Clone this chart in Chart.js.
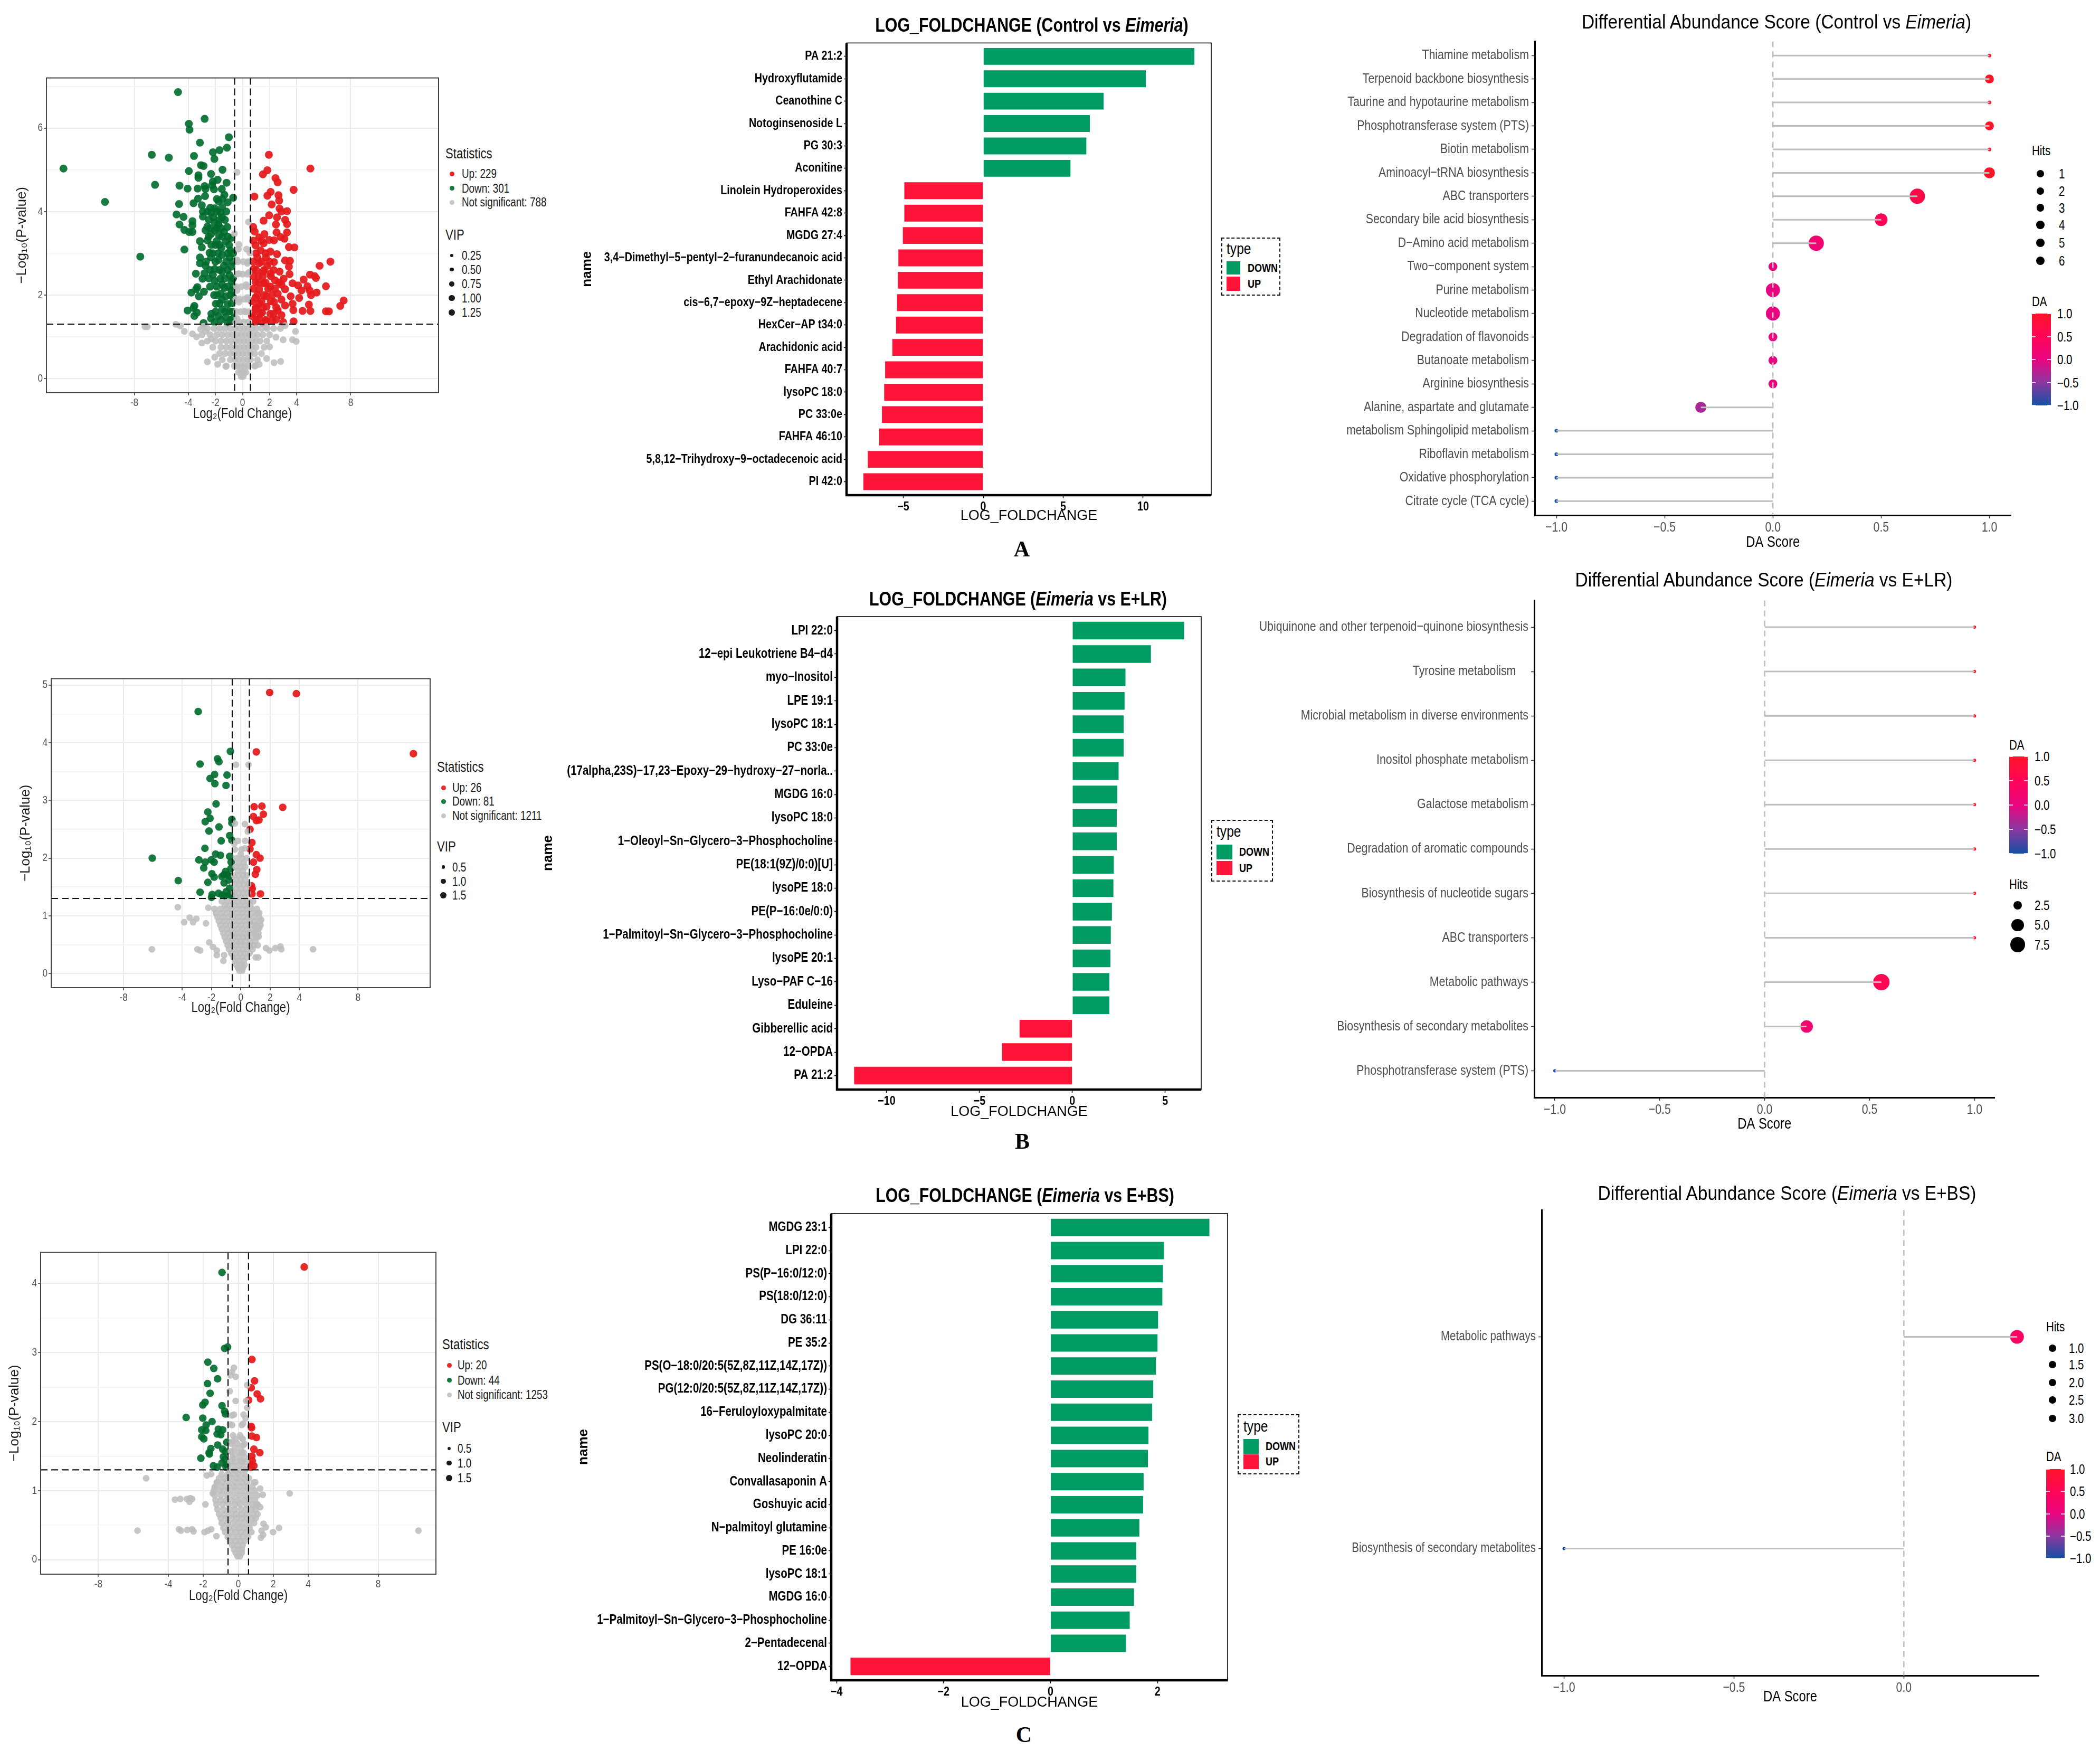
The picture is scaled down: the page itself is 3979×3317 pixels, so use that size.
<!DOCTYPE html>
<html><head><meta charset="utf-8">
<script src="https://cdn.jsdelivr.net/npm/chart.js@4.4.1/dist/chart.umd.min.js"></script>
<style>
html,body{margin:0;padding:0;background:#fff;}
#page{position:relative;width:3979px;height:3317px;overflow:hidden;background:#fff;}
canvas{position:absolute;}
.t{position:absolute;white-space:pre;line-height:1;}
</style></head><body><div id="page"></div>
<script>
// font detection: use a real narrow face if present, otherwise Liberation Sans compressed horizontally
const _m = document.createElement('canvas').getContext('2d');
_m.font = "40px monospace"; const _w1 = _m.measureText('abcdefghijklmnopqrstuvwxyz').width;
_m.font = "40px 'Liberation Sans Narrow', monospace"; const _w2 = _m.measureText('abcdefghijklmnopqrstuvwxyz').width;
const HAS_NARROW = Math.abs(_w1-_w2) > 1;
const NARROW = HAS_NARROW ? "'Liberation Sans Narrow', sans-serif" : "'Liberation Sans', sans-serif";
const NSCALE = HAS_NARROW ? 1 : 0.82;
const SANS = "Arial, 'Liberation Sans', sans-serif";
const SERIF = "'Liberation Serif','Times New Roman',serif";

// ---------------- DATA ----------------
const FC_CUT = 0.585, P_CUT = 1.301;
const volcXTicks = [-8,-4,-2,0,2,4,8];

const statCountsA = [229, 301, 788];
const vipLabelsA = ['0.25','0.50','0.75','1.00','1.25'];
const volcA_up = [[1.95,5.36],[5.02,5.03],[1.84,4.99],[1.51,4.89],[2.44,4.80],[2.60,4.70],[3.78,4.52],[2.08,4.47],[0.88,4.36],[1.84,4.38],[2.66,4.39],[2.71,4.26],[2.16,4.17],[2.74,4.07],[2.88,4.00],[3.29,4.01],[1.97,3.91],[2.55,3.86],[1.56,3.78],[3.15,3.80],[2.47,3.69],[3.29,3.70],[0.79,3.63],[0.90,3.52],[1.62,3.46],[2.52,3.50],[3.29,3.50],[1.23,3.38],[1.97,3.32],[2.33,3.31],[2.82,3.39],[3.10,3.35],[0.96,3.19],[1.56,3.24],[3.43,3.15],[3.84,3.14],[1.34,3.07],[2.06,3.04],[2.55,2.98],[1.10,2.90],[1.73,2.90],[3.15,2.83],[3.51,2.82],[6.50,2.80],[1.23,2.76],[2.33,2.79],[5.70,2.70],[1.84,2.70],[3.43,2.68],[0.82,2.62],[1.51,2.56],[2.74,2.56],[2.06,2.51],[3.48,2.50],[1.18,2.45],[4.99,2.49],[5.34,2.45],[5.43,2.41],[4.52,2.37],[3.04,2.39],[2.41,2.35],[0.96,2.31],[1.56,2.28],[2.88,2.25],[3.70,2.28],[6.17,2.21],[4.11,2.23],[4.80,2.21],[2.06,2.20],[1.23,2.14],[3.15,2.14],[4.36,2.11],[4.96,2.11],[5.48,2.06],[5.07,2.00],[2.60,2.03],[1.78,1.97],[3.56,1.97],[0.96,1.94],[4.19,1.93],[7.48,1.87],[2.88,1.89],[2.33,1.83],[1.23,1.80],[3.70,1.79],[4.91,1.77],[7.23,1.74],[3.15,1.75],[1.78,1.72],[0.96,1.66],[3.76,1.64],[4.44,1.62],[5.02,1.62],[6.17,1.61],[6.39,1.61],[2.60,1.64],[1.45,1.58],[2.06,1.55],[2.88,1.52],[0.69,1.50],[1.23,1.44],[2.47,1.41],[1.78,1.38],[3.78,1.37],[0.96,1.35],[1.51,1.33],[3.01,1.35],
[1.0,1.4],[1.7,1.4],[2.2,1.4],[0.75,1.55],[1.3,1.55],[2.3,1.55],[1.0,1.7],[1.5,1.7],[2.5,1.7],[0.7,1.85],[1.4,1.85],[2.1,1.85],[1.1,2.0],[1.6,2.0],[2.2,2.0],[0.8,2.15],[1.9,2.15],[2.4,2.15],[1.2,2.3],[1.7,2.3],[2.7,2.3],[0.8,2.45],[1.5,2.45],[2.1,2.45],[1.0,2.6],[1.6,2.6],[2.3,2.6],[0.8,2.8],[1.4,2.8],[2.0,2.8],[1.0,3.0],[1.7,3.0],[0.8,3.3],[1.4,3.3]];
const volcA_down = [[-4.77,6.86],[-2.80,6.22],[-3.97,6.10],[-3.92,5.96],[-1.01,5.78],[-3.15,5.65],[-1.15,5.53],[-1.70,5.47],[-2.19,5.42],[-6.71,5.36],[-3.59,5.33],[-5.45,5.29],[-2.08,5.26],[-13.24,5.03],[-3.07,5.11],[-2.88,5.09],[-3.97,4.97],[-1.48,5.00],[-2.33,4.90],[-3.26,4.87],[-3.26,4.81],[-1.84,4.76],[-2.19,4.72],[-1.18,4.69],[-6.47,4.64],[-4.66,4.62],[-2.80,4.61],[-2.25,4.63],[-4.06,4.55],[-3.32,4.55],[-2.74,4.54],[-2.11,4.53],[-1.53,4.54],[-1.34,4.40],[-0.69,4.33],[-2.77,4.37],[-3.29,4.31],[-10.17,4.23],[-3.62,4.20],[-4.69,4.18],[-3.01,4.15],[-1.10,4.22],[-1.78,4.25],[-2.38,4.09],[-2.06,4.08],[-1.51,4.11],[-2.93,4.00],[-2.33,3.97],[-1.64,3.97],[-4.88,3.93],[-4.36,3.87],[-2.93,3.88],[-2.16,3.86],[-1.51,3.86],[-3.70,3.77],[-2.06,3.74],[-1.78,3.69],[-4.66,3.69],[-3.70,3.67],[-2.60,3.64],[-1.12,3.63],[-4.30,3.56],[-3.95,3.51],[-3.70,3.51],[-2.74,3.55],[-2.06,3.55],[-1.37,3.51],[-2.33,3.46],[-1.73,3.43],[-0.82,3.37],[-2.60,3.31],[-3.15,3.29],[-1.92,3.29],[-1.23,3.28],[-3.01,3.14],[-1.56,3.13],[-0.90,3.07],[-4.30,3.09],[-2.44,3.01],[-1.51,2.96],[-3.15,2.90],[-2.33,2.90],[-0.96,2.90],[-7.56,2.92],[-1.78,2.84],[-3.15,2.76],[-2.74,2.70],[-1.37,2.70],[-0.82,2.68],[-2.06,2.62],[-1.51,2.56],[-3.45,2.51],[-2.82,2.52],[-2.19,2.49],[-0.96,2.48],[-2.96,2.39],[-1.64,2.39],[-2.06,2.34],[-0.82,2.34],[-1.51,2.25],[-3.34,2.19],[-3.43,2.14],[-1.34,2.17],[-2.85,2.08],[-3.78,2.06],[-0.82,2.11],[-1.62,2.03],[-1.23,1.97],[-3.23,1.97],[-0.69,1.94],[-1.51,1.89],[-1.97,1.79],[-1.10,1.78],[-3.56,1.74],[-3.62,1.69],[-1.51,1.66],[-4.06,1.63],[-3.37,1.58],[-0.96,1.61],[-2.30,1.55],[-3.56,1.50],[-1.78,1.50],[-1.23,1.47],[-2.33,1.44],[-0.69,1.44],[-2.88,1.33],[-2.06,1.35],[-1.10,1.33],
[-1.6,1.4],[-0.9,1.4],[-2.0,1.6],[-1.3,1.6],[-0.75,1.6],[-1.7,1.8],[-0.8,1.8],[-2.1,2.0],[-1.9,2.0],[-0.9,2.0],[-2.4,2.2],[-1.9,2.2],[-1.1,2.2],[-0.7,2.2],[-2.5,2.4],[-1.3,2.4],[-0.7,2.4],[-2.4,2.6],[-1.7,2.6],[-1.1,2.6],[-2.7,2.8],[-2.0,2.8],[-1.2,2.8],[-0.7,2.8],[-2.2,3.0],[-1.8,3.0],[-1.1,3.0],[-0.7,3.0],[-2.3,3.2],[-2.0,3.2],[-1.7,3.2],[-1.0,3.2],[-2.5,3.4],[-1.5,3.4],[-1.1,3.4],[-2.4,3.6],[-1.9,3.6],[-1.6,3.6],[-2.5,3.8],[-1.7,3.8],[-1.3,3.8],[-2.6,4.0],[-1.9,4.0],[-1.2,4.0],[-1.9,4.3],[-1.5,4.3]];
const volcA_ns = [[-0.41,4.94],[0.44,3.75],[-0.60,3.47],[-0.27,3.21],[0.55,3.01],[0.36,2.76],[-0.41,2.84],[0.47,2.54],[-0.27,2.51],[0.27,2.25],[-0.41,2.11],[0.36,1.94],[-0.27,1.83],[0.14,1.61],[-0.41,1.44],[-7.04,1.24],[-7.21,1.24],[-4.93,1.30],[-4.60,1.26],[-4.30,1.13],[-3.70,1.07],[-3.01,0.85],[-2.74,1.13],[-2.60,0.40],[-2.06,0.51],[-1.23,0.29],[-1.84,0.34],[3.92,1.13],[3.97,0.89],[3.70,0.93],[3.01,0.93],[2.47,0.99],[2.00,0.76],[2.33,0.38],[2.82,0.41],[1.78,0.48],[0.96,0.31],[1.23,0.34],[3.15,1.27],[1.78,1.24],[-3.4,1.0],[-3.1,1.18],[-2.9,1.25],[-2.3,0.95],
[-0.1,0.05],[0.05,0.05],[-0.3,0.15],[-0.1,0.15],[0.1,0.15],[0.25,0.15],[-1.2,0.3],[-0.6,0.3],[-0.35,0.3],[-0.1,0.3],[0.15,0.3],[0.4,0.3],[0.9,0.3],[-1.5,0.45],[-0.9,0.45],[-0.55,0.45],[-0.25,0.45],[0.05,0.45],[0.35,0.45],[0.6,0.45],[1.1,0.45],[-1.7,0.6],[-1.3,0.6],[-0.9,0.6],[-0.6,0.6],[-0.3,0.6],[0,0.6],[0.3,0.6],[0.6,0.6],[0.9,0.6],[1.4,0.6],[-2.2,0.75],[-1.6,0.75],[-1.2,0.75],[-0.85,0.75],[-0.5,0.75],[-0.2,0.75],[0.1,0.75],[0.4,0.75],[0.7,0.75],[1.0,0.75],[1.6,0.75],[-2.6,0.9],[-2.0,0.9],[-1.6,0.9],[-1.2,0.9],[-0.85,0.9],[-0.5,0.9],[-0.2,0.9],[0.1,0.9],[0.4,0.9],[0.7,0.9],[1.0,0.9],[1.3,0.9],[1.8,0.9],[-3.0,1.05],[-2.4,1.05],[-1.9,1.05],[-1.5,1.05],[-1.1,1.05],[-0.75,1.05],[-0.4,1.05],[-0.1,1.05],[0.2,1.05],[0.5,1.05],[0.8,1.05],[1.1,1.05],[1.5,1.05],[2.0,1.05],[-2.6,1.2],[-2.1,1.2],[-1.7,1.2],[-1.3,1.2],[-0.9,1.2],[-0.55,1.2],[-0.2,1.2],[0.1,1.2],[0.4,1.2],[0.7,1.2],[1.0,1.2],[1.4,1.2],[1.8,1.2],[2.3,1.2],[2.8,1.2],[-0.5,1.35],[-0.2,1.35],[0.1,1.35],[0.4,1.35],[-0.45,1.6],[-0.15,1.6],[0.2,1.6],[0.45,1.6],[-0.5,1.9],[-0.2,1.9],[0.15,1.9],[0.4,1.9],[-0.45,2.2],[-0.1,2.2],[0.3,2.2],[-0.4,2.5],[0,2.5],[0.35,2.5],[-0.35,2.8],[0.05,2.8],[0.4,2.8],[-0.3,3.1],[0.3,3.1]];

const statCountsB = [26, 81, 1211];
const vipLabelsB = ['0.5','1.0','1.5'];
const volcB_up = [[1.97,4.87],[3.79,4.85],[11.78,3.81],[1.06,3.84],[0.91,2.89],[1.44,2.90],[2.86,2.88],[1.54,2.76],[0.86,2.72],[1.06,2.65],[1.24,2.66],[0.63,2.50],[0.76,2.27],[0.63,2.16],[1.06,2.06],[1.31,2.00],[0.86,1.93],[1.09,1.80],[0.99,1.72],[0.73,1.52],[0.78,1.47],[1.34,1.38],[0.76,1.38]];
const volcB_down = [[-2.91,4.54],[-0.71,3.85],[-2.78,3.63],[-1.59,3.72],[-1.49,3.67],[-1.79,3.45],[-0.94,3.44],[-2.10,3.38],[-1.77,3.29],[-1.01,3.26],[-1.69,2.94],[-2.25,2.80],[-2.10,2.69],[-2.43,2.63],[-0.61,2.67],[-0.61,2.61],[-1.49,2.54],[-2.17,2.47],[-0.76,2.39],[-0.61,2.31],[-1.34,2.30],[-2.45,2.17],[-6.04,2.00],[-2.86,1.97],[-2.43,1.93],[-2.53,1.83],[-1.72,2.07],[-1.39,2.05],[-2.02,1.97],[-1.82,1.93],[-0.76,2.03],[-0.66,1.93],[-1.04,1.77],[-0.68,1.82],[-1.97,1.73],[-1.82,1.67],[-1.29,1.68],[-1.16,1.71],[-0.91,1.71],[-0.76,1.69],[-4.27,1.61],[-2.25,1.58],[-1.14,1.57],[-0.83,1.62],[-0.76,1.48],[-2.78,1.41],[-1.95,1.37],[-1.52,1.39],[-1.26,1.36],[-0.99,1.42],[-0.76,1.36],[-2.00,1.32],[-1.09,1.34],[-0.63,1.35]];
const volcB_ns = [[-0.33,3.62],[0.53,3.62],[0.28,2.59],[-0.40,2.60],[0.48,2.46],[-0.45,2.25],[0.28,2.17],[0,2.07],[-4.30,1.15],[-3.87,0.89],[-3.49,0.97],[-3.26,0.89],[-2.38,0.87],[-3.03,0.95],[-2.22,1.14],[-6.07,0.42],[-2.96,0.42],[-2.78,0.40],[-2.15,0.54],[-1.90,0.46],[-1.64,0.40],[4.93,0.42],[1.72,0.44],[2.35,0.44],[2.70,0.47],[2.76,0.42],[1.95,0.40],[1.16,0.49],[1.39,0.93],[1.26,1.05],[1.01,0.81],[1.21,0.64],[0.88,0.70],[1.26,0.79],[-1.19,0.22],[-1.14,0.32],[-1.64,0.32],[1.01,0.28],[1.19,0.28],
[-0.1,0.05],[0.1,0.05],[-0.3,0.15],[0,0.15],[0.25,0.15],[-0.5,0.28],[-0.2,0.28],[0.1,0.28],[0.4,0.28],[-0.8,0.42],[-0.45,0.42],[-0.15,0.42],[0.15,0.42],[0.45,0.42],[0.8,0.42],[-1.0,0.56],[-0.65,0.56],[-0.3,0.56],[0,0.56],[0.3,0.56],[0.65,0.56],[1.0,0.56],[-1.2,0.7],[-0.85,0.7],[-0.5,0.7],[-0.15,0.7],[0.2,0.7],[0.55,0.7],[0.9,0.7],[1.2,0.7],[-1.4,0.84],[-1.05,0.84],[-0.7,0.84],[-0.35,0.84],[0,0.84],[0.35,0.84],[0.7,0.84],[1.05,0.84],[1.35,0.84],[-1.6,0.98],[-1.2,0.98],[-0.85,0.98],[-0.5,0.98],[-0.15,0.98],[0.2,0.98],[0.55,0.98],[0.9,0.98],[1.25,0.98],[-1.8,1.12],[-1.4,1.12],[-1.0,1.12],[-0.65,1.12],[-0.3,1.12],[0.05,1.12],[0.4,1.12],[0.75,1.12],[1.1,1.12],[-1.3,1.25],[-0.9,1.25],[-0.55,1.25],[-0.2,1.25],[0.15,1.25],[0.5,1.25],[0.85,1.25],[-0.45,1.4],[-0.15,1.4],[0.15,1.4],[0.45,1.4],[-0.4,1.55],[-0.1,1.55],[0.2,1.55],[0.5,1.55],[-0.45,1.7],[-0.15,1.7],[0.15,1.7],[0.4,1.7],[-0.35,1.85],[0,1.85],[0.3,1.85],[-0.3,2.0],[0.1,2.0],[0.4,2.0],[-0.4,2.15],[0.05,2.15],[-0.2,2.3],[0.3,2.3],
[-0.2,0.1],[0.15,0.1],[-0.4,0.22],[-0.1,0.22],[0.2,0.22],[-0.65,0.35],[-0.35,0.35],[-0.05,0.35],[0.25,0.35],[0.6,0.35],[-0.9,0.49],[-0.6,0.49],[-0.3,0.49],[0,0.49],[0.3,0.49],[0.6,0.49],[0.9,0.49],[-1.1,0.63],[-0.8,0.63],[-0.45,0.63],[-0.15,0.63],[0.15,0.63],[0.45,0.63],[0.8,0.63],[1.1,0.63],[-1.3,0.77],[-0.95,0.77],[-0.6,0.77],[-0.25,0.77],[0.1,0.77],[0.45,0.77],[0.8,0.77],[1.15,0.77],[-1.5,0.91],[-1.15,0.91],[-0.8,0.91],[-0.45,0.91],[-0.1,0.91],[0.25,0.91],[0.6,0.91],[0.95,0.91],[1.3,0.91],[-1.7,1.05],[-1.3,1.05],[-0.95,1.05],[-0.6,1.05],[-0.25,1.05],[0.1,1.05],[0.45,1.05],[0.8,1.05],[1.15,1.05],[-1.1,1.18],[-0.75,1.18],[-0.4,1.18],[-0.05,1.18],[0.3,1.18],[0.65,1.18],[-0.3,1.32],[0,1.32],[0.3,1.32],[-0.3,1.47],[0,1.47],[0.35,1.47],[-0.3,1.62],[0,1.62],[0.3,1.62],[-0.2,1.78],[0.15,1.78],[-0.15,1.92],[0.2,1.92]];

const statCountsC = [20, 44, 1253];
const vipLabelsC = ['0.5','1.0','1.5'];
const volcC_up = [[3.77,4.24],[0.78,2.90],[0.93,2.59],[0.74,2.49],[1.08,2.40],[1.27,2.33],[0.59,2.31],[0.74,1.93],[0.76,1.91],[0.78,1.79],[1.04,1.77],[0.89,1.60],[1.23,1.55],[0.78,1.50],[0.80,1.43],[0.76,1.38],[0.89,1.36],[0.72,1.34]];
const volcC_down = [[-0.93,4.16],[-0.78,3.06],[-0.61,3.08],[-1.74,2.86],[-1.40,2.77],[-1.18,2.62],[-1.76,2.55],[-1.61,2.41],[-1.90,2.28],[-2.03,2.24],[-0.93,2.23],[-0.78,2.15],[-0.74,2.11],[-2.98,2.06],[-2.03,2.05],[-1.50,2.00],[-1.84,1.95],[-2.09,1.88],[-1.86,1.87],[-1.14,1.89],[-0.89,1.88],[-1.21,1.82],[-1.00,1.81],[-2.09,1.78],[-1.97,1.75],[-0.66,1.70],[-1.18,1.66],[-1.57,1.61],[-0.89,1.60],[-1.67,1.55],[-0.72,1.56],[-1.65,1.53],[-0.85,1.49],[-2.14,1.47],[-0.76,1.45],[-0.93,1.40],[-0.66,1.38],[-1.42,1.36],[-1.21,1.34],[-0.70,1.34]];
const volcC_ns = [[-5.27,1.18],[-5.76,0.42],[10.30,0.42],[2.94,0.96],[-3.62,0.87],[-3.32,0.88],[-2.94,0.88],[-2.75,0.89],[-2.64,0.88],[-2.79,0.84],[-1.88,0.80],[-3.39,0.44],[-3.28,0.42],[-2.92,0.43],[-2.64,0.44],[-2.56,0.41],[-1.93,0.40],[-1.74,0.42],[-1.55,0.44],[-1.25,0.34],[1.99,0.40],[2.33,0.46],[1.40,0.94],[1.25,1.03],[1.04,0.80],[1.25,0.76],[1.44,0.52],[1.57,0.47],[1.33,0.42],[1.42,0.36],[1.29,0.32],[-0.25,2.78],[-0.36,2.72],[-0.44,2.67],[-0.15,2.65],[-0.49,2.44],[0.51,2.53],[0.51,2.20],[0.42,2.05],[-0.36,2.09],[-0.47,1.96],[0.28,1.97],[0.21,1.76],[-0.34,1.71],[0.30,1.66],[-0.42,1.57],[0.23,1.55],[0.13,1.43],[-0.32,1.47],[-1.80,1.22],[-1.55,1.24],[0.97,1.12],[-1.35,1.05],[-1.46,0.96],[-1.23,1.12],
[-0.05,0.05],[0.1,0.05],[-0.25,0.15],[0,0.15],[0.2,0.15],[-0.45,0.27],[-0.15,0.27],[0.1,0.27],[0.35,0.27],[-0.75,0.4],[-0.45,0.4],[-0.15,0.4],[0.15,0.4],[0.45,0.4],[0.75,0.4],[-0.95,0.53],[-0.6,0.53],[-0.3,0.53],[0,0.53],[0.3,0.53],[0.6,0.53],[0.9,0.53],[-1.1,0.66],[-0.75,0.66],[-0.4,0.66],[-0.1,0.66],[0.2,0.66],[0.5,0.66],[0.85,0.66],[1.1,0.66],[-1.25,0.8],[-0.9,0.8],[-0.55,0.8],[-0.2,0.8],[0.1,0.8],[0.45,0.8],[0.8,0.8],[1.1,0.8],[-1.35,0.93],[-1.0,0.93],[-0.65,0.93],[-0.3,0.93],[0.05,0.93],[0.4,0.93],[0.75,0.93],[1.1,0.93],[-1.3,1.06],[-0.95,1.06],[-0.6,1.06],[-0.25,1.06],[0.1,1.06],[0.45,1.06],[0.8,1.06],[-1.1,1.18],[-0.75,1.18],[-0.4,1.18],[-0.05,1.18],[0.3,1.18],[0.6,1.18],[-0.5,1.3],[-0.2,1.3],[0.1,1.3],[0.4,1.3],[-0.45,1.42],[-0.15,1.42],[0.2,1.42],[0.45,1.42],[-0.35,1.55],[0,1.55],[0.3,1.55],[-0.4,1.68],[-0.05,1.68],[0.35,1.68],[-0.3,1.8],[0.1,1.8],[-0.35,1.95],[0.2,1.95],[-0.25,2.1],[0.3,2.1],[-0.15,2.3],[0.45,2.3],
[-0.15,0.1],[0.2,0.1],[-0.35,0.21],[-0.05,0.21],[0.25,0.21],[-0.6,0.33],[-0.3,0.33],[0,0.33],[0.25,0.33],[0.55,0.33],[-0.85,0.46],[-0.55,0.46],[-0.25,0.46],[0.05,0.46],[0.35,0.46],[0.65,0.46],[-1.0,0.6],[-0.7,0.6],[-0.4,0.6],[-0.1,0.6],[0.2,0.6],[0.5,0.6],[0.8,0.6],[1.0,0.6],[-1.2,0.73],[-0.85,0.73],[-0.5,0.73],[-0.2,0.73],[0.15,0.73],[0.45,0.73],[0.75,0.73],[1.0,0.73],[-1.3,0.86],[-1.0,0.86],[-0.7,0.86],[-0.4,0.86],[-0.05,0.86],[0.3,0.86],[0.6,0.86],[0.95,0.86],[-1.4,1.0],[-1.1,1.0],[-0.8,1.0],[-0.45,1.0],[-0.1,1.0],[0.25,1.0],[0.6,1.0],[0.95,1.0],[-1.2,1.12],[-0.85,1.12],[-0.5,1.12],[-0.15,1.12],[0.2,1.12],[0.5,1.12],[0.9,1.12],[-0.95,1.24],[-0.6,1.24],[-0.3,1.24],[0,1.24],[0.35,1.24],[-0.35,1.36],[0,1.36],[0.3,1.36],[-0.3,1.49],[0.05,1.49],[0.35,1.49],[-0.2,1.62],[0.15,1.62],[-0.15,1.75],[0.25,1.75]];

const barNamesA = ['PA 21:2','Hydroxyflutamide','Ceanothine C','Notoginsenoside L','PG 30:3','Aconitine','Linolein Hydroperoxides','FAHFA 42:8','MGDG 27:4','3,4−Dimethyl−5−pentyl−2−furanundecanoic acid','Ethyl Arachidonate','cis−6,7−epoxy−9Z−heptadecene','HexCer−AP t34:0','Arachidonic acid','FAHFA 40:7','lysoPC 18:0','PC 33:0e','FAHFA 46:10','5,8,12−Trihydroxy−9−octadecenoic acid','PI 42:0'];
const barValsA = [13.24,10.2,7.56,6.7,6.48,5.49,-4.97,-4.97,-5.06,-5.34,-5.37,-5.43,-5.49,-5.72,-6.17,-6.23,-6.37,-6.54,-7.25,-7.53];
const barTicksA = [-5,0,5,10];

const barNamesB = ['LPI 22:0','12−epi Leukotriene B4−d4','myo−Inositol','LPE 19:1','lysoPC 18:1','PC 33:0e','(17alpha,23S)−17,23−Epoxy−29−hydroxy−27−norla..','MGDG 16:0','lysoPC 18:0','1−Oleoyl−Sn−Glycero−3−Phosphocholine','PE(18:1(9Z)/0:0)[U]','lysoPE 18:0','PE(P−16:0e/0:0)','1−Palmitoyl−Sn−Glycero−3−Phosphocholine','lysoPE 20:1','Lyso−PAF C−16','Eduleine','Gibberellic acid','12−OPDA','PA 21:2'];
const barValsB = [6.05,4.26,2.89,2.84,2.79,2.79,2.52,2.45,2.42,2.42,2.26,2.24,2.16,2.10,2.08,2.02,2.02,-2.87,-3.81,-11.78];
const barTicksB = [-10,-5,0,5];

const barNamesC = ['MGDG 23:1','LPI 22:0','PS(P−16:0/12:0)','PS(18:0/12:0)','DG 36:11','PE 35:2','PS(O−18:0/20:5(5Z,8Z,11Z,14Z,17Z))','PG(12:0/20:5(5Z,8Z,11Z,14Z,17Z))','16−Feruloyloxypalmitate','lysoPC 20:0','Neolinderatin','Convallasaponin A','Goshuyic acid','N−palmitoyl glutamine','PE 16:0e','lysoPC 18:1','MGDG 16:0','1−Palmitoyl−Sn−Glycero−3−Phosphocholine','2−Pentadecenal','12−OPDA'];
const barValsC = [2.98,2.13,2.11,2.10,2.02,2.01,1.98,1.93,1.91,1.84,1.83,1.75,1.74,1.67,1.61,1.61,1.57,1.49,1.42,-3.75];
const barTicksC = [-4,-2,0,2];

const pathNamesA = ['Thiamine metabolism','Terpenoid backbone biosynthesis','Taurine and hypotaurine metabolism','Phosphotransferase system (PTS)','Biotin metabolism','Aminoacyl−tRNA biosynthesis','ABC transporters','Secondary bile acid biosynthesis','D−Amino acid metabolism','Two−component system','Purine metabolism','Nucleotide metabolism','Degradation of flavonoids','Butanoate metabolism','Arginine biosynthesis','Alanine, aspartate and glutamate','metabolism Sphingolipid metabolism','Riboflavin metabolism','Oxidative phosphorylation','Citrate cycle (TCA cycle)'];
const daA = [1,1,1,1,1,1,0.667,0.5,0.2,0,0,0,0,0,0,-0.333,-1,-1,-1,-1];
const hitsA = [1,2,1,2,1,3,6,4,6,2,5,5,2,2,2,3,1,1,1,1];
const hitsLegendA = ['1','2','3','4','5','6'];

const pathNamesB = ['Ubiquinone and other terpenoid−quinone biosynthesis','Tyrosine metabolism    ','Microbial metabolism in diverse environments','Inositol phosphate metabolism','Galactose metabolism','Degradation of aromatic compounds','Biosynthesis of nucleotide sugars','ABC transporters','Metabolic pathways','Biosynthesis of secondary metabolites','Phosphotransferase system (PTS)'];
const daB = [1,1,1,1,1,1,1,1,0.556,0.2,-1];
const hitsB = [1,1,1,1,1,1,1,1,9,5,1];
const hitsLegendB = ['2.5','5.0','7.5'];

const pathNamesC = ['Metabolic pathways','Biosynthesis of secondary metabolites'];
const daC = [0.333,-1];
const hitsC = [3,1];
const hitsLegendC = ['1.0','1.5','2.0','2.5','3.0'];

const daTicks = [1,0.5,0,-0.5,-1];
const daScoreTicksAB = [-1,-0.5,0,0.5,1];
const daScoreTicksC = [-1,-0.5,0];

// ---------------- STYLE / HELPERS ----------------
const page = document.getElementById('page');
const GREEN = '#009B62', RED = '#FF1439';
const V_RED = 'rgba(228,26,28,0.93)', V_GREEN = 'rgba(0,108,44,0.9)', V_GRAY = 'rgba(190,190,190,0.88)';
const DA_STOPS = [[20,80,165],[140,55,160],[232,5,128],[255,5,88],[255,20,40]];
function daColor(v){
  const t = (v+1)/2*4; const i = Math.min(3, Math.max(0, Math.floor(t))); const f = t - i;
  const a = DA_STOPS[i], b = DA_STOPS[i+1];
  return `rgb(${Math.round(a[0]+(b[0]-a[0])*f)},${Math.round(a[1]+(b[1]-a[1])*f)},${Math.round(a[2]+(b[2]-a[2])*f)})`;
}
const minus = v => (v<0?'−':'') + Math.abs(v);
const minus1 = v => (v<0?'−':'') + Math.abs(v).toFixed(1);
const toXY = arr => arr.map(p=>({x:p[0],y:p[1]}));

function patchCtx(ctx){
  const orig = ctx.fillText;
  ctx.fillText = function(t, x, y){
    const narrow = this.font.indexOf('Arial') < 0;
    if (narrow && NSCALE !== 1){ this.save(); this.translate(x,y); this.scale(NSCALE,1); orig.call(this,t,0,0); this.restore(); }
    else orig.call(this,t,x,y);
  };
}
function mkCanvas(box, ext){
  const c = document.createElement('canvas');
  const w = (box[2]-box[0]) + ext.L + ext.R, h = (box[3]-box[1]) + ext.T + ext.B;
  c.width = w; c.height = h;
  c.style.left = (box[0]-ext.L)+'px'; c.style.top = (box[1]-ext.T)+'px';
  c.style.width = w+'px'; c.style.height = h+'px';
  page.appendChild(c); patchCtx(c.getContext('2d')); return c;
}
function T(x,y,html,o={}){
  const d=document.createElement('div'); d.className='t'; d.innerHTML=html;
  const a = o.a||'l';
  const ax = a==='c'?'-50%':(a==='r'?'-100%':'0');
  const sx = o.f ? 1 : (o.sx || NSCALE);
  d.style.left=x+'px'; d.style.top=y+'px'; d.style.fontFamily=o.f||NARROW; d.style.fontSize=(o.s||20)+'px';
  d.style.fontWeight=o.w||'normal'; d.style.color=o.c||'#000';
  d.style.transformOrigin = a==='c'?'center':(a==='r'?'right':'left');
  d.style.transform=`translate(${ax},-50%)` + (sx!==1 ? ` scaleX(${sx})` : '');
  page.appendChild(d);
}
function D(x,y,r,c){ const d=document.createElement('div'); d.style.cssText=`position:absolute;left:${x-r}px;top:${y-r}px;width:${2*r}px;height:${2*r}px;border-radius:50%;background:${c};`; page.appendChild(d); }
function R(x1,y1,x2,y2,css){ const d=document.createElement('div'); d.style.cssText=`position:absolute;left:${x1}px;top:${y1}px;width:${x2-x1}px;height:${y2-y1}px;${css}`; page.appendChild(d); }

const baseOpts = (ext) => ({responsive:false, animation:false, devicePixelRatio:1, events:[],
  layout:{padding:{left:0,top:ext.T,right:ext.R,bottom:0}},
  plugins:{legend:{display:false},tooltip:{enabled:false}}});

// ---------------- VOLCANO ----------------
function volcano(o){
  const {box, ext} = o; const cv = mkCanvas(box, ext);
  const yS = 26, xS = 27;
  const padTop = o.yTitleX - (box[0]-ext.L) - yS*0.6;
  const padBot = (box[3]+ext.B) - o.xTitleY - xS*0.6;
  const yAll = o.yMajor.concat(o.yMinor).sort((a,b)=>a-b);
  const isMaj = c => c.tick && o.yMajor.includes(c.tick.value);
  const opts = baseOpts(ext);
  opts.scales = {
    x:{type:'linear',min:o.xRange[0],max:o.xRange[1],offset:false,
      afterBuildTicks:s=>{s.ticks=volcXTicks.map(v=>({value:v}));}, afterFit:s=>{s.height=ext.B;},
      ticks:{autoSkip:false,maxRotation:0,font:{family:NARROW,size:21},color:'#4D4D4D',padding:2,callback:v=>String(v)},
      grid:{color:'#EBEBEB',lineWidth:2,tickLength:5,tickColor:'#333',tickWidth:1.5},
      border:{display:false},
      title:{display:true,text:'Log₂(Fold Change)',font:{family:NARROW,size:xS},color:'#1A1A1A',padding:{top:0,bottom:padBot}}},
    y:{type:'linear',min:o.yRange[0],max:o.yRange[1],offset:false,
      afterBuildTicks:s=>{s.ticks=yAll.map(v=>({value:v}));}, afterFit:s=>{s.width=ext.L;},
      ticks:{autoSkip:false,font:{family:NARROW,size:21},color:'#4D4D4D',padding:2,callback:v=>o.yMajor.includes(v)?String(v):''},
      grid:{color:c=>isMaj(c)?'#EBEBEB':'#F2F2F2',lineWidth:c=>isMaj(c)?2:1.5,tickLength:5,tickColor:c=>isMaj(c)?'#333':'rgba(0,0,0,0)',tickWidth:1.5},
      border:{display:false},
      title:{display:true,text:'−Log₁₀(P-value)',font:{family:SANS,size:yS},color:'#1A1A1A',padding:{top:padTop,bottom:0}}}
  };
  new Chart(cv,{type:'scatter',
    data:{datasets:[
      {data:toXY(o.ns),backgroundColor:V_GRAY,pointRadius:o.rNs,borderWidth:0},
      {data:toXY(o.down),backgroundColor:V_GREEN,pointRadius:o.r,borderWidth:0},
      {data:toXY(o.up),backgroundColor:V_RED,pointRadius:o.r,borderWidth:0}]},
    options:opts,
    plugins:[{id:'thr',afterDatasetsDraw(ch){
      const {ctx,chartArea:a,scales:{x,y}}=ch; ctx.save();
      ctx.beginPath(); ctx.rect(a.left,a.top,a.width,a.height); ctx.clip();
      ctx.strokeStyle='#111'; ctx.lineWidth=2.2; ctx.setLineDash([13,7]);
      [-FC_CUT,FC_CUT].forEach(v=>{const px=x.getPixelForValue(v); ctx.beginPath(); ctx.moveTo(px,a.top); ctx.lineTo(px,a.bottom); ctx.stroke();});
      const py=y.getPixelForValue(P_CUT); ctx.beginPath(); ctx.moveTo(a.left,py); ctx.lineTo(a.right,py); ctx.stroke();
      ctx.restore(); ctx.save(); ctx.strokeStyle='#444'; ctx.lineWidth=2; ctx.strokeRect(a.left,a.top,a.width,a.height); ctx.restore();
    }}]});
  const L = o.leg;
  T(L.x, L.statY, 'Statistics', {s:27, c:'#1A1A1A'});
  const cols=[V_RED,V_GREEN,V_GRAY], names=['Up: ','Down: ','Not significant: '];
  L.itemY.forEach((yy,i)=>{ D(L.dotX, yy, 4.5, cols[i]); T(L.labX, yy, names[i]+o.counts[i], {s:23, c:'#1A1A1A'}); });
  T(L.x, L.vipY, 'VIP', {s:27, c:'#1A1A1A'});
  L.vipItemY.forEach((yy,i)=>{ D(L.dotX, yy, L.vipR[i], '#1A1A1A'); T(L.labX, yy, o.vipLabels[i], {s:23, c:'#1A1A1A'}); });
}

// ---------------- BAR ----------------
function barChart(o){
  const {box, ext} = o; const cv = mkCanvas(box, ext);
  const n=o.names.length;
  const padTop = o.yTitleX - (box[0]-ext.L) - 26*0.6;
  const padBot = (box[3]+ext.B) - o.xTitleY - 27*0.6;
  const opts = baseOpts(ext); opts.indexAxis='y';
  opts.scales = {
    x:{type:'linear',min:o.xRange[0],max:o.xRange[1],offset:false,beginAtZero:false,
      afterBuildTicks:s=>{s.ticks=o.ticks.map(v=>({value:v}));}, afterFit:s=>{s.height=ext.B;},
      ticks:{autoSkip:false,maxRotation:0,font:{family:NARROW,size:24,weight:'bold'},color:'#000',padding:2,callback:v=>minus(v)},
      grid:{offset:false,drawOnChartArea:false,tickLength:6,tickColor:'#000',tickWidth:1.5},
      border:{display:false},
      title:{display:true,text:'LOG_FOLDCHANGE',font:{family:SANS,size:27},color:'#000',padding:{top:0,bottom:padBot}}},
    y:{type:'linear',min:-0.6,max:n-0.4,reverse:true,offset:false,
      afterBuildTicks:s=>{s.ticks=o.names.map((_,i)=>({value:i}));}, afterFit:s=>{s.width=ext.L;},
      ticks:{autoSkip:false,font:{family:NARROW,size:o.labSize,weight:'bold'},color:'#000',padding:3,callback:v=>o.names[v]},
      grid:{offset:false,drawOnChartArea:false,tickLength:5,tickColor:'#000',tickWidth:1.5},
      border:{display:false},
      title:{display:true,text:'name',font:{family:SANS,size:26,weight:'bold'},color:'#000',padding:{top:padTop,bottom:0}}}
  };
  new Chart(cv,{type:'bar',
    data:{datasets:[{data:o.vals.map((v,i)=>({x:v,y:i})),backgroundColor:o.vals.map(v=>v>0?GREEN:RED),
      borderColor:'rgba(255,255,255,0.7)',borderWidth:1,categoryPercentage:1,barPercentage:0.8}]},
    options:opts,
    plugins:[{id:'frame',afterDraw(ch){const {ctx,chartArea:a}=ch; ctx.save(); ctx.strokeStyle='#000'; ctx.lineWidth=1.6;
      ctx.strokeRect(a.left,a.top,a.width,a.height); ctx.lineWidth=4.5; ctx.beginPath(); ctx.moveTo(a.left,a.top); ctx.lineTo(a.left,a.bottom); ctx.lineTo(a.right,a.bottom); ctx.stroke(); ctx.restore();}}]});
  T(o.title[0], o.title[1], o.titleHtml, {s:37, w:'bold', a:'c'});
  const g=o.leg;
  R(g.box[0],g.box[1],g.box[2],g.box[3],'border:2px dashed #111;box-sizing:border-box;');
  T(g.sw[0], g.typeY, 'type', {s:30});
  R(g.sw[0], g.down[0], g.sw[1], g.down[1], 'background:'+GREEN);
  R(g.sw[0], g.up[0], g.sw[1], g.up[1], 'background:'+RED);
  T(g.labX, (g.down[0]+g.down[1])/2, 'DOWN', {s:22, w:'bold'});
  T(g.labX, (g.up[0]+g.up[1])/2, 'UP', {s:22, w:'bold'});
}

// ---------------- LOLLIPOP ----------------
function lolli(o){
  const {box, ext} = o; const cv = mkCanvas(box, ext);
  const n=o.names.length;
  const padBot = (box[3]+ext.B) - o.xTitleY - 29*0.6;
  const segs=[]; o.da.forEach((v,i)=>{segs.push({x:0,y:i},{x:v,y:i},{x:v,y:null});});
  const opts = baseOpts(ext);
  opts.scales = {
    x:{type:'linear',min:o.xRange[0],max:o.xRange[1],offset:false,
      afterBuildTicks:s=>{s.ticks=o.ticks.map(v=>({value:v}));}, afterFit:s=>{s.height=ext.B;},
      ticks:{autoSkip:false,maxRotation:0,font:{family:NARROW,size:26},color:'#4D4D4D',padding:2,callback:v=>minus1(v)},
      grid:{drawOnChartArea:false,tickLength:6,tickColor:'#333',tickWidth:1.5},
      border:{display:true,color:'#000',width:3},
      title:{display:true,text:'DA Score',font:{family:NARROW,size:29},color:'#000',padding:{top:0,bottom:padBot}}},
    y:{type:'linear',min:-0.6,max:n-0.4,reverse:true,offset:false,
      afterBuildTicks:s=>{s.ticks=o.names.map((_,i)=>({value:i}));}, afterFit:s=>{s.width=ext.L;},
      ticks:{autoSkip:false,font:{family:NARROW,size:o.labSize},color:'#4D4D4D',padding:5,callback:v=>o.names[v]},
      grid:{drawOnChartArea:false,tickLength:6,tickColor:'#333',tickWidth:1.5},
      border:{display:true,color:'#000',width:3}}
  };
  new Chart(cv,{type:'scatter',
    data:{datasets:[
      {type:'bubble',data:o.da.map((v,i)=>({x:v,y:i,r:o.diam(o.hits[i])/2})),backgroundColor:o.da.map(daColor),borderWidth:0,order:2},
      {type:'line',data:segs,borderColor:'#BEBEBE',borderWidth:3,pointRadius:0,spanGaps:false,order:1}]},
    options:opts,
    plugins:[{id:'zero',afterDatasetsDraw(ch){const {ctx,chartArea:a,scales:{x}}=ch; const px=x.getPixelForValue(0);
      ctx.save(); ctx.strokeStyle='#BDBDBD'; ctx.lineWidth=2.5; ctx.setLineDash([11,8]); ctx.beginPath(); ctx.moveTo(px,a.top); ctx.lineTo(px,a.bottom); ctx.stroke(); ctx.restore();}}]});
  T(o.title[0], o.title[1], o.titleHtml, {s:36, a:'c', sx:0.93});
  const h=o.hitsLeg;
  T(h.x, h.titleY, 'Hits', {s:25});
  h.ys.forEach((yy,i)=>{ D(h.dotX, yy, h.r[i], '#000'); T(h.labX, yy, o.hitsLabels[i], {s:25}); });
  const c=o.daLeg;
  T(c.x, c.titleY, 'DA', {s:25});
  const [x1,y1,x2,y2]=c.bar;
  R(x1,y1,x2,y2,`background:linear-gradient(to top, ${DA_STOPS.map((s,i)=>`rgb(${s.join(',')}) ${i*25}%`).join(',')})`);
  daTicks.forEach(v=>{ const yy=y1+(1-v)/2*(y2-y1);
    R(x1,yy-1,x1+7,yy+1,'background:rgba(255,255,255,0.8)'); R(x2-7,yy-1,x2,yy+1,'background:rgba(255,255,255,0.8)');
    T(c.labX, yy, minus1(v), {s:25}); });
}

// ---------------- BUILD ----------------
volcano({box:[88,145,831,744], ext:{L:88,T:12,R:12,B:72}, xRange:[-14.5,14.5], yRange:[-0.34,7.2],
  yMajor:[0,2,4,6], yMinor:[1,3,5,7], xTitleY:785, yTitleX:42, r:7.5, rNs:6.5,
  up:volcA_up, down:volcA_down, ns:volcA_ns, counts:statCountsA, vipLabels:vipLabelsA,
  leg:{x:844, statY:291, dotX:856, labX:875, itemY:[329,356.6,383], vipY:444.5, vipItemY:[484,510.6,537.9,564.6,591.9], vipR:[2.8,3.8,4.7,5.6,6.4]}});
volcano({box:[97,1283,815,1871], ext:{L:97,T:12,R:12,B:72}, xRange:[-12.94,12.92], yRange:[-0.245,5.11],
  yMajor:[0,1,2,3,4,5], yMinor:[0.5,1.5,2.5,3.5,4.5], xTitleY:1910, yTitleX:49, r:7.2, rNs:6.3,
  up:volcB_up, down:volcB_down, ns:volcB_ns, counts:statCountsB, vipLabels:vipLabelsB,
  leg:{x:828, statY:1453.4, dotX:840, labX:857, itemY:[1492,1518,1545], vipY:1604, vipItemY:[1642.7,1669.5,1696], vipR:[3.3,4.8,6]}});
volcano({box:[77,2370,826,2982], ext:{L:77,T:12,R:12,B:72}, xRange:[-11.3,11.3], yRange:[-0.21,4.45],
  yMajor:[0,1,2,3,4], yMinor:[0.5,1.5,2.5,3.5], xTitleY:3024, yTitleX:28, r:7.2, rNs:6.3,
  up:volcC_up, down:volcC_down, ns:volcC_ns, counts:statCountsC, vipLabels:vipLabelsC,
  leg:{x:838, statY:2546.7, dotX:851, labX:867, itemY:[2586.2,2614.7,2642.2], vipY:2704.2, vipItemY:[2744.2,2771.7,2800.2], vipR:[3.3,4.8,6]}});

barChart({box:[1604,74,2295,938], ext:{L:514,T:10,R:10,B:80}, xRange:[-8.55,14.26], ticks:barTicksA, names:barNamesA, vals:barValsA,
  labSize:24, xTitleY:978, yTitleX:1113, title:[1955,47], titleHtml:'LOG_FOLDCHANGE (Control vs <i>Eimeria</i>)',
  leg:{box:[2314,450,2426,560], typeY:471, sw:[2324,2350], down:[495,520], up:[524,551], labX:2364}});
barChart({box:[1586,1160,2276,2064], ext:{L:576,T:10,R:10,B:80}, xRange:[-12.67,6.94], ticks:barTicksB, names:barNamesB, vals:barValsB,
  labSize:25, xTitleY:2107, yTitleX:1039, title:[1929,1133.5], titleHtml:'LOG_FOLDCHANGE (<i>Eimeria</i> vs E+LR)',
  leg:{box:[2295,1553,2412,1670], typeY:1575.4, sw:[2305,2335], down:[1600,1628], up:[1631,1658], labX:2348}});
barChart({box:[1575,2291,2326,3183], ext:{L:490,T:10,R:10,B:80}, xRange:[-4.1,3.31], ticks:barTicksC, names:barNamesC, vals:barValsC,
  labSize:25, xTitleY:3226, yTitleX:1105.5, title:[1942,2264], titleHtml:'LOG_FOLDCHANGE (<i>Eimeria</i> vs E+BS)',
  leg:{box:[2345,2679,2462,2793], typeY:2701.5, sw:[2356,2385], down:[2726,2753.5], up:[2755,2782.7], labX:2398}});

lolli({box:[2908,68,3815,976], ext:{L:420,T:10,R:10,B:75}, xRange:[-1.1,1.1], ticks:daScoreTicksAB, names:pathNamesA, da:daA, hits:hitsA, labSize:26,
  diam:h=>7+22*Math.sqrt((h-1)/5), xTitleY:1028, title:[3366,42], titleHtml:'Differential Abundance Score (Control vs <i>Eimeria</i>)',
  hitsLabels:hitsLegendA, hitsLeg:{x:3850, titleY:285, dotX:3866, labX:3901, ys:[329,362,393.5,426,460,493.5], r:[7,7.2,7.4,7.6,7.8,8]},
  daLeg:{x:3850, titleY:571, bar:[3850,594,3886,768], labX:3898}});
lolli({box:[2907,1127,3785,2079], ext:{L:560,T:10,R:10,B:75}, xRange:[-1.098,1.096], ticks:daScoreTicksAB, names:pathNamesB, da:daB, hits:hitsB, labSize:26,
  diam:h=>6+25*Math.sqrt((h-1)/8), xTitleY:2130, title:[3342,1098.6], titleHtml:'Differential Abundance Score (<i>Eimeria</i> vs E+LR)',
  hitsLabels:hitsLegendB, hitsLeg:{x:3807, titleY:1674.5, dotX:3823, labX:3855, ys:[1715,1752.4,1789.6], r:[8.4,11.9,14.2]},
  daLeg:{x:3807, titleY:1410.8, bar:[3807,1433,3842,1617], labX:3855}});
lolli({box:[2921,2282,3866,3174], ext:{L:420,T:10,R:10,B:72}, xRange:[-1.066,0.397], ticks:daScoreTicksC, names:pathNamesC, da:daC, hits:hitsC, labSize:25,
  diam:h=>6+20*Math.sqrt((h-1)/2), xTitleY:3215, title:[3386,2260.5], titleHtml:'Differential Abundance Score (<i>Eimeria</i> vs E+BS)',
  hitsLabels:hitsLegendC, hitsLeg:{x:3877, titleY:2513.4, dotX:3889, labX:3920, ys:[2554,2585.4,2618.9,2652.3,2686.5], r:[7,7,7,7,7]},
  daLeg:{x:3877, titleY:2759, bar:[3877,2783,3912,2952], labX:3922}});

T(1936,1040,'A',{f:SERIF,s:42,w:'bold',a:'c'});
T(1937,2162,'B',{f:SERIF,s:42,w:'bold',a:'c'});
T(1940,3286,'C',{f:SERIF,s:42,w:'bold',a:'c'});
</script></body></html>
